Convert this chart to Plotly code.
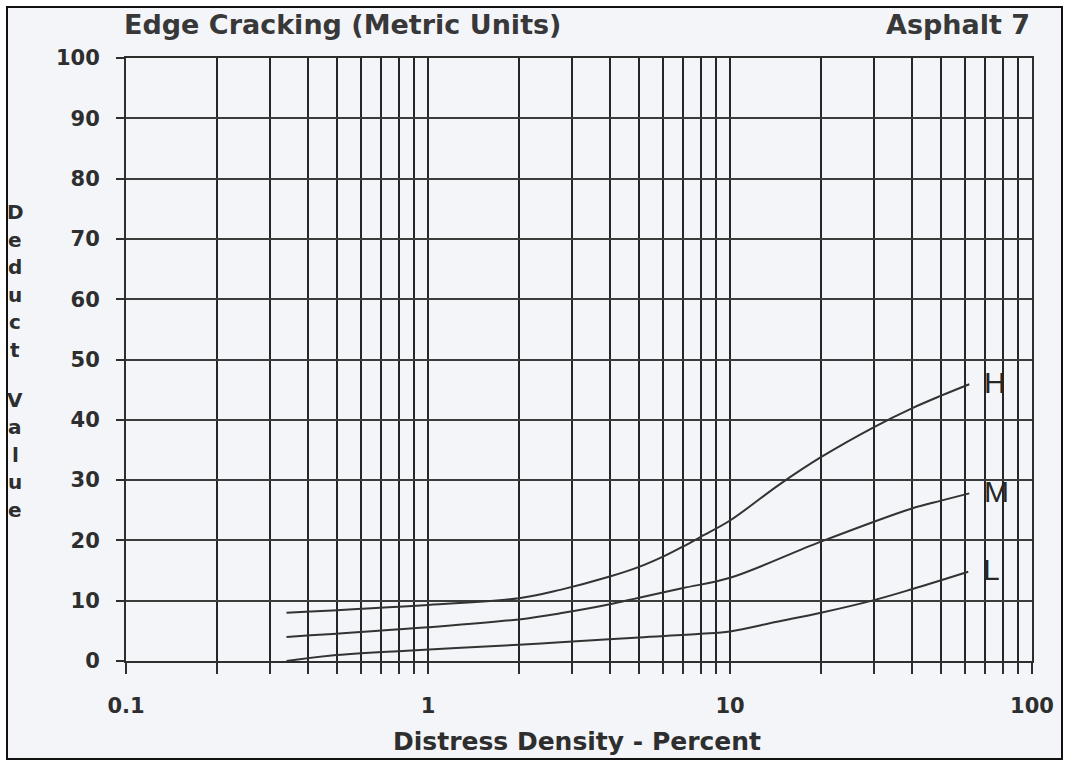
import math
import plotly.graph_objects as go

# Deduct-value curves for edge cracking (asphalt), by severity level
density = {
    "H": [0.34, 1, 2, 2.74, 4, 5, 6, 7, 8, 10, 14.6, 20, 30, 40, 50, 62],
    "M": [0.34, 1, 2, 2.74, 4, 5, 7, 10, 20, 40, 50, 62],
    "L": [0.34, 0.48, 0.85, 2, 2.74, 5, 8, 10, 14.3, 20, 30, 40, 61.5],
}
deduct = {
    "H": [8.0, 9.3, 10.4, 11.8, 14.0, 15.6, 17.3, 19.0, 20.6, 23.3, 29.3, 33.8, 38.8, 41.9, 44.0, 45.9],
    "M": [4.0, 5.6, 6.9, 7.9, 9.4, 10.5, 12.1, 13.8, 19.8, 25.3, 26.6, 27.8],
    "L": [0.0, 0.9, 1.7, 2.7, 3.1, 3.9, 4.5, 4.9, 6.5, 8.0, 10.1, 11.9, 14.8],
}

# log-axis rulings: every 1..9 multiple in each decade, labels on decades only
x_grid = [m * 10 ** e for e in (-1, 0, 1) for m in range(1, 10)] + [100]
x_labels = {0.1: "0.1", 1: "1", 10: "10", 100: "100"}
y_ticks = list(range(0, 101, 10))

INK = "#2e2e2e"
FONT = "DejaVu Sans"
W, H = 1067, 764
L_PX, R_PX, T_PX, B_PX = 126, 1032, 58, 661


def px_x(p):
    return (p - L_PX) / (R_PX - L_PX)


def px_y(p):
    return (B_PX - p) / (B_PX - T_PX)


fig = go.Figure()
for key in ("H", "M", "L"):
    fig.add_trace(go.Scatter(
        x=density[key], y=deduct[key], mode="lines",
        line=dict(color="#333333", width=2, shape="spline", smoothing=1.0),
        showlegend=False, hoverinfo="skip",
    ))
    # severity label just past the end of its curve (log axis -> log10 position)
    fig.add_annotation(
        x=math.log10(density[key][-1]), y=deduct[key][-1], xref="x", yref="y",
        text=key, showarrow=False, xanchor="left", yanchor="middle",
        xshift=13, yshift=2,
        font=dict(family="Liberation Sans", size=30, color="#262626"),
    )

axis_font = dict(family=FONT, size=21, color=INK, weight="bold")

fig.update_xaxes(
    type="log", range=[-1, 2],
    tickmode="array", tickvals=x_grid,
    ticktext=[x_labels.get(round(v, 6), "") for v in x_grid],
    ticks="outside", ticklen=11, tickwidth=2, tickcolor=INK,
    showgrid=True, gridcolor="#262626", gridwidth=2,
    showline=True, linecolor=INK, linewidth=2, mirror=True,
    zeroline=False, tickfont=axis_font, ticklabelstandoff=14,
)
fig.update_yaxes(
    range=[0, 100], tickmode="array", tickvals=y_ticks,
    ticks="outside", ticklen=8, tickwidth=2, tickcolor=INK,
    showgrid=True, gridcolor="#3c3c3c", gridwidth=2,
    showline=True, linecolor=INK, linewidth=2, mirror=True,
    zeroline=False, tickfont=axis_font, ticklabelstandoff=12,
)

# titles
title_font = dict(family=FONT, size=27, color="#383838", weight="bold")
fig.add_annotation(
    x=px_x(122), y=px_y(24), xref="paper", yref="paper",
    text="Edge Cracking (Metric Units)", showarrow=False,
    xanchor="left", yanchor="middle", font=title_font,
)
fig.add_annotation(
    x=px_x(1032), y=px_y(24), xref="paper", yref="paper",
    text="Asphalt 7", showarrow=False,
    xanchor="right", yanchor="middle", font=title_font,
)
fig.add_annotation(
    x=px_x(577), y=px_y(741), xref="paper", yref="paper",
    text="Distress Density - Percent", showarrow=False,
    xanchor="center", yanchor="middle",
    font=dict(family=FONT, size=25, color=INK, weight="bold"),
)

# stacked vertical axis title
row = 0.0
for ch in "Deduct Value":
    if ch == " ":
        row += 0.8
        continue
    fig.add_annotation(
        x=px_x(15), y=px_y(212 + 27.6 * row), xref="paper", yref="paper",
        text=ch, showarrow=False, xanchor="center", yanchor="middle",
        font=dict(family=FONT, size=20, color=INK, weight="bold"),
    )
    row += 1

# page frame
fig.add_shape(
    type="rect", xref="paper", yref="paper", layer="below",
    x0=px_x(7), x1=px_x(1062), y0=px_y(759), y1=px_y(7),
    line=dict(color="#111111", width=2), fillcolor="#f3f5f8",
)

fig.update_layout(
    width=W, height=H,
    margin=dict(l=L_PX, r=W - R_PX, t=T_PX, b=H - B_PX),
    paper_bgcolor="#ffffff", plot_bgcolor="rgba(0,0,0,0)",
)

fig.write_html("out.html")
